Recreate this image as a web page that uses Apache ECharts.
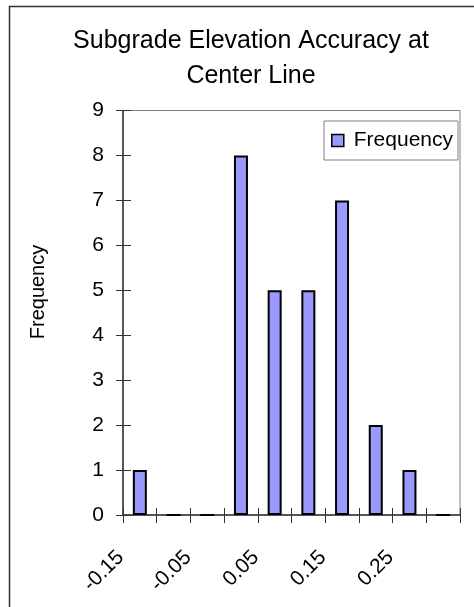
<!DOCTYPE html>
<html>
<head>
<meta charset="utf-8">
<script src="https://cdn.jsdelivr.net/npm/echarts@6/dist/echarts.min.js"></script>
<style>
  html, body { margin: 0; padding: 0; background: #ffffff; }
  #chart { width: 474px; height: 607px; }
</style>
</head>
<body>
<div id="chart"></div>
<script>
// Histogram bins (upper bin edges) and counts
var binLabels = ['-0.15', '-0.1', '-0.05', '0', '0.05', '0.1', '0.15', '0.2', '0.25', '0.3'];
var frequency = [1, 0, 0, 8, 5, 5, 7, 2, 1, 0];
var yTicks = { min: 0, max: 9, step: 1 };

var FONT = '"Liberation Sans", Arial, sans-serif';
var DARK = '#333333';

var chart = echarts.init(document.getElementById('chart'), null, { renderer: 'canvas' });

var option = {
  backgroundColor: '#ffffff',
  animation: false,
  textStyle: { fontFamily: FONT, color: '#000' },
  grid: {
    left: 123, right: 14, top: 110.5, bottom: 92,
    show: true, borderColor: '#808080', borderWidth: 1, backgroundColor: '#ffffff'
  },
  legend: {
    data: ['Frequency'],
    right: 16, top: 121,
    orient: 'vertical',
    icon: 'rect',
    itemWidth: 12, itemHeight: 12, itemGap: 6,
    padding: [9, 5, 9, 7],
    borderColor: '#808080', borderWidth: 1,
    backgroundColor: '#ffffff',
    textStyle: { fontFamily: FONT, fontSize: 21, color: '#000', padding: [0, 0, 0, 5] },
    itemStyle: { borderColor: '#000', borderWidth: 1.5 }
  },
  xAxis: [
    {
      type: 'category', data: binLabels, position: 'bottom',
      axisLine: { lineStyle: { color: DARK, width: 1.5 } },
      axisTick: { show: true, interval: 0, length: 8, inside: false, lineStyle: { color: DARK, width: 1 } },
      axisLabel: {
        interval: 1, rotate: 45, margin: 20, padding: [0, 27, 0, 0],
        fontSize: 21, fontFamily: FONT, color: '#000'
      },
      splitLine: { show: false }
    },
    {
      type: 'category', data: binLabels, position: 'bottom', offset: 0,
      axisLine: { show: false },
      axisTick: { show: true, interval: 0, length: 7, inside: true, lineStyle: { color: DARK, width: 1 } },
      axisLabel: { show: false },
      splitLine: { show: false }
    }
  ],
  yAxis: [
    {
      type: 'value', min: yTicks.min, max: yTicks.max, interval: yTicks.step,
      axisLine: { show: true, lineStyle: { color: DARK, width: 1.5 } },
      axisTick: { show: true, length: 7, inside: false, lineStyle: { color: DARK, width: 1 } },
      axisLabel: { margin: 19, fontSize: 21, fontFamily: FONT, color: '#000' },
      splitLine: { show: false }
    },
    {
      type: 'value', min: yTicks.min, max: yTicks.max, interval: yTicks.step, position: 'left', offset: 0,
      axisLine: { show: false },
      axisTick: { show: true, length: 8, inside: true, lineStyle: { color: DARK, width: 1 } },
      axisLabel: { show: false },
      splitLine: { show: false }
    }
  ],
  series: [
    {
      name: 'Frequency',
      type: 'bar',
      xAxisIndex: 0, yAxisIndex: 0,
      data: frequency,
      barWidth: 14,
      itemStyle: { color: '#9999FF', borderColor: '#000', borderWidth: 2 }
    }
  ],
  graphic: [
    {
      type: 'rect', silent: true, z: 100,
      shape: { x: 9.5, y: 6.5, width: 600, height: 700 },
      style: { fill: null, stroke: DARK, lineWidth: 1.5 }
    },
    {
      type: 'text', silent: true,
      x: 251, y: 23.5,
      style: {
        text: 'Subgrade Elevation Accuracy at\nCenter Line',
        font: '25px ' + FONT, fill: '#000',
        textAlign: 'center', textVerticalAlign: 'top', lineHeight: 35
      }
    },
    {
      type: 'text', silent: true,
      x: 38, y: 292, rotation: Math.PI / 2,
      style: {
        text: 'Frequency', font: '20px ' + FONT, fill: '#000',
        textAlign: 'center', textVerticalAlign: 'middle'
      }
    }
  ]
};

chart.setOption(option);
</script>
</body>
</html>
